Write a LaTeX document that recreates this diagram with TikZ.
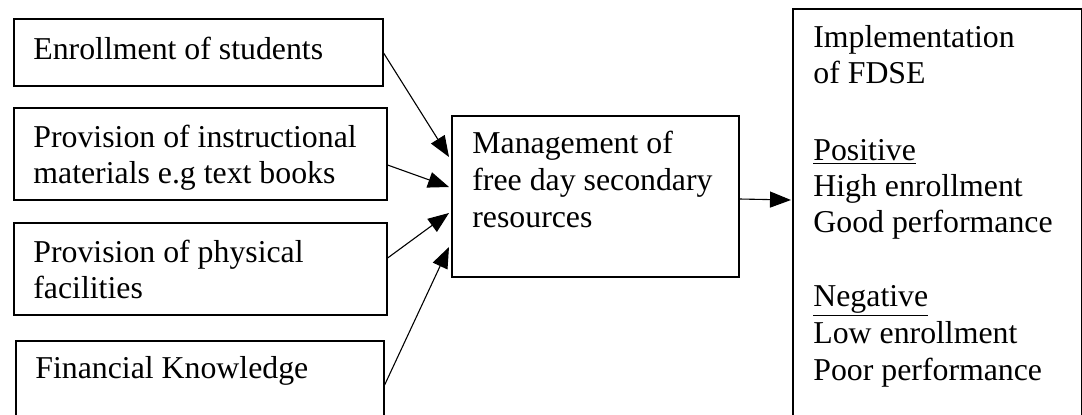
\documentclass[tikz,border=0pt]{standalone}
\usepackage{fontspec}
\setmainfont{Liberation Serif}
\usetikzlibrary{arrows.meta,calc}
\begin{document}
\begin{tikzpicture}[x=0.5pt,y=-0.5pt,
  box/.style={draw,line width=0.8pt,inner sep=0pt,anchor=north west},
  txt/.style={anchor=base west,inner sep=0pt,font=\fontsize{15.9}{18.3}\selectfont},
  conn/.style={line width=0.55pt,-{Triangle[length=10.5pt,width=8pt]}}]
\useasboundingbox (0,0) rectangle (1082,414);
\clip (0,0) rectangle (1082,414);
% input boxes
\node[box,minimum width=184.5pt,minimum height=33.5pt] (b1) at (13,18) {};
\node[box,minimum width=186.5pt,minimum height=46pt] (b2) at (13,107) {};
\node[box,minimum width=186.5pt,minimum height=46pt] (b3) at (13,222) {};
\node[box,minimum width=184pt,minimum height=50pt] (b4) at (15,340) {};
% middle box
\node[box,minimum width=143.5pt,minimum height=80.5pt] (m) at (451,115) {};
% outcome box
\node[box,minimum width=144.5pt,minimum height=220pt] (r) at (792,8) {};
\draw[gray!50,line width=0.8pt] (r.north east) -- (r.south east);
% texts
\node[txt] (t1) at (33,59) {Enrollment of students};
\node[txt] (t2a) at (33,147) {Provision of instructional};
\node[txt] (t2b) at (33,183) {materials e.g text books};
\node[txt] (t3a) at (33,262) {Provision of physical};
\node[txt] (t3b) at (33,298) {facilities};
\node[txt] (t4) at (35,378) {Financial Knowledge};
\node[txt] (m1) at (472,153) {Management of};
\node[txt] (m2) at (472,190) {free day secondary};
\node[txt] (m3) at (472,227) {resources};
\node[txt] (r1) at (813,47) {Implementation};
\node[txt] (r2) at (813,83) {of FDSE};
\node[txt] (r3) at (813,160) {\underline{Positive}};
\node[txt] (r4) at (813,196) {High enrollment};
\node[txt] (r5) at (813,232) {Good performance};
\node[txt] (r6) at (813,306) {\underline{Negative}};
\node[txt] (r7) at (813,343) {Low enrollment};
\node[txt] (r8) at (813,380) {Poor performance};
% connectors
\draw[conn] ($(b1.north east)+(0,35)$) -- ($(m.north west)+(-2,42)$);
\draw[conn] ($(b2.north east)+(0,58)$) -- ($(m.north west)+(-2,72)$);
\draw[conn] ($(b3.north east)+(0,36)$) -- ($(m.north west)+(-2,98)$);
\draw[conn] ($(b4.north east)+(0,45)$) -- ($(m.north west)+(-2,132)$);
\draw[conn] ($(m.north east)+(0,84)$) -- ($(r.north west)+(-1,192)$);
\end{tikzpicture}
\end{document}
